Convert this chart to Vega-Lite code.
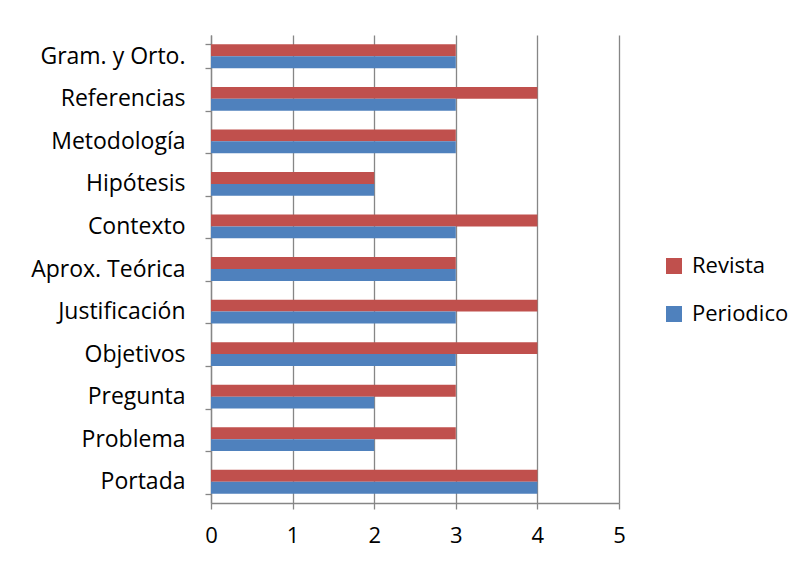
{
  "$schema": "https://vega.github.io/schema/vega-lite/v6.json",
  "width": 408,
  "height": 468,
  "autosize": {"type": "none"},
  "padding": {"left": 211, "top": 35, "right": 187, "bottom": 64},
  "background": "white",
  "config": {
    "font": "Open Sans",
    "view": {"stroke": null},
    "axis": {"labelFont": "Open Sans", "labelColor": "black", "domainColor": "#868686", "tickColor": "#868686", "gridColor": "#868686", "domainWidth": 1.3, "tickWidth": 1.3, "gridWidth": 1.3}
  },
  "data": {
    "values": [
      {"categoria": "Gram. y Orto.", "serie": "Revista", "valor": 3},
      {"categoria": "Gram. y Orto.", "serie": "Periodico", "valor": 3},
      {"categoria": "Referencias", "serie": "Revista", "valor": 4},
      {"categoria": "Referencias", "serie": "Periodico", "valor": 3},
      {"categoria": "Metodología", "serie": "Revista", "valor": 3},
      {"categoria": "Metodología", "serie": "Periodico", "valor": 3},
      {"categoria": "Hipótesis", "serie": "Revista", "valor": 2},
      {"categoria": "Hipótesis", "serie": "Periodico", "valor": 2},
      {"categoria": "Contexto", "serie": "Revista", "valor": 4},
      {"categoria": "Contexto", "serie": "Periodico", "valor": 3},
      {"categoria": "Aprox. Teórica", "serie": "Revista", "valor": 3},
      {"categoria": "Aprox. Teórica", "serie": "Periodico", "valor": 3},
      {"categoria": "Justificación", "serie": "Revista", "valor": 4},
      {"categoria": "Justificación", "serie": "Periodico", "valor": 3},
      {"categoria": "Objetivos", "serie": "Revista", "valor": 4},
      {"categoria": "Objetivos", "serie": "Periodico", "valor": 3},
      {"categoria": "Pregunta", "serie": "Revista", "valor": 3},
      {"categoria": "Pregunta", "serie": "Periodico", "valor": 2},
      {"categoria": "Problema", "serie": "Revista", "valor": 3},
      {"categoria": "Problema", "serie": "Periodico", "valor": 2},
      {"categoria": "Portada", "serie": "Revista", "valor": 4},
      {"categoria": "Portada", "serie": "Periodico", "valor": 4}
    ]
  },
  "mark": {"type": "bar"},
  "encoding": {
    "y": {
      "field": "categoria",
      "type": "nominal",
      "sort": ["Gram. y Orto.", "Referencias", "Metodología", "Hipótesis", "Contexto", "Aprox. Teórica", "Justificación", "Objetivos", "Pregunta", "Problema", "Portada"],
      "scale": {"paddingInner": 0.44, "paddingOuter": 0.22},
      "axis": {"title": null, "tickBand": "extent", "tickSize": 6, "labelPadding": 20, "labelFontSize": 23, "grid": false}
    },
    "yOffset": {
      "field": "serie",
      "type": "nominal",
      "sort": ["Revista", "Periodico"]
    },
    "x": {
      "field": "valor",
      "type": "quantitative",
      "scale": {"domain": [0, 5], "nice": false},
      "axis": {"title": null, "values": [0, 1, 2, 3, 4, 5], "tickSize": 6, "labelPadding": 16, "labelFontSize": 22, "labelFlush": false, "grid": true, "format": "d"}
    },
    "color": {
      "field": "serie",
      "type": "nominal",
      "scale": {"domain": ["Revista", "Periodico"], "range": ["#C0504D", "#4F81BD"]},
      "legend": {"title": null, "orient": "none", "legendX": 452, "legendY": 220, "symbolType": "square", "symbolSize": 256, "symbolStrokeWidth": 0, "symbolOpacity": 1, "labelFontSize": 22, "labelFont": "Open Sans", "rowPadding": 26, "labelOffset": 7}
    }
  }
}
